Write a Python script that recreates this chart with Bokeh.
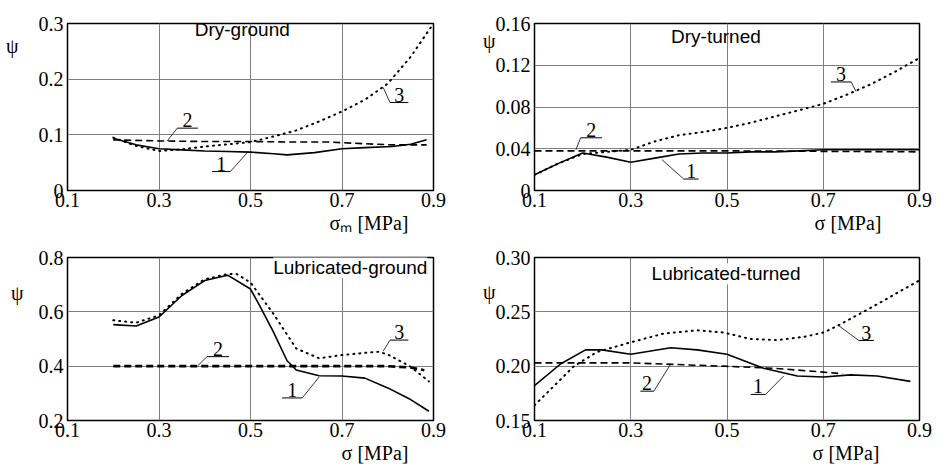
from bokeh.plotting import figure
from bokeh.layouts import column, row
from bokeh.models import FixedTicker, Label, Title, CustomJSTickFormatter, PrintfTickFormatter
from bokeh.core.properties import value
from bokeh.embed import file_html
from bokeh.resources import INLINE

# ---------------- data ----------------
x_tick_vals = [0.1, 0.3, 0.5, 0.7, 0.9]

# Dry-ground
dg1_x = [0.2, 0.25, 0.3, 0.35, 0.4, 0.45, 0.5, 0.55, 0.58, 0.64, 0.7, 0.75, 0.81, 0.85, 0.885]
dg1_y = [0.094, 0.082, 0.075, 0.073, 0.071, 0.070, 0.069, 0.066, 0.064, 0.068, 0.075, 0.077, 0.079, 0.083, 0.091]
dg2_x = [0.2, 0.3, 0.4, 0.5, 0.6, 0.67, 0.75, 0.81, 0.885]
dg2_y = [0.091, 0.089, 0.088, 0.088, 0.087, 0.087, 0.084, 0.082, 0.082]
dg3_x = [0.2, 0.25, 0.3, 0.35, 0.4, 0.45, 0.5, 0.55, 0.6, 0.65, 0.7, 0.75, 0.8, 0.85, 0.9]
dg3_y = [0.095, 0.080, 0.071, 0.074, 0.079, 0.083, 0.087, 0.097, 0.108, 0.124, 0.142, 0.163, 0.192, 0.240, 0.300]

# Dry-turned
dt_x = [0.1, 0.15, 0.2, 0.25, 0.3, 0.35, 0.4, 0.45, 0.5, 0.55, 0.6, 0.65, 0.7, 0.75, 0.8, 0.85, 0.9]
dt1_y = [0.015, 0.026, 0.036, 0.032, 0.027, 0.031, 0.035, 0.036, 0.036, 0.037, 0.037, 0.038, 0.039, 0.039, 0.039, 0.039, 0.039]
dt2_x = [0.1, 0.5, 0.9]
dt2_y = [0.038, 0.038, 0.037]
dt3_y = [0.015, 0.026, 0.035, 0.037, 0.039, 0.047, 0.053, 0.056, 0.060, 0.065, 0.071, 0.077, 0.083, 0.092, 0.102, 0.114, 0.127]

# Lubricated-ground
lg1_x = [0.2, 0.25, 0.3, 0.35, 0.4, 0.45, 0.5, 0.52, 0.55, 0.58, 0.6, 0.65, 0.7, 0.75, 0.8, 0.85, 0.89]
lg1_y = [0.553, 0.548, 0.581, 0.660, 0.715, 0.735, 0.684, 0.623, 0.526, 0.420, 0.386, 0.365, 0.364, 0.356, 0.320, 0.277, 0.234]
lg2_x = [0.2, 0.5, 0.8, 0.85, 0.88]
lg2_y = [0.400, 0.400, 0.400, 0.395, 0.385]
lg3_x = [0.2, 0.25, 0.3, 0.35, 0.4, 0.45, 0.47, 0.5, 0.55, 0.6, 0.65, 0.7, 0.75, 0.78, 0.8, 0.85, 0.89]
lg3_y = [0.569, 0.560, 0.587, 0.666, 0.720, 0.739, 0.739, 0.708, 0.593, 0.465, 0.429, 0.441, 0.449, 0.453, 0.443, 0.398, 0.344]

# Lubricated-turned
lt1_x = [0.1, 0.154, 0.206, 0.24, 0.3, 0.383, 0.438, 0.5, 0.576, 0.646, 0.701, 0.757, 0.812, 0.881]
lt1_y = [0.182, 0.202, 0.215, 0.215, 0.211, 0.217, 0.215, 0.211, 0.198, 0.191, 0.190, 0.192, 0.191, 0.186]
lt2_x = [0.1, 0.3, 0.493, 0.6, 0.715, 0.74]
lt2_y = [0.203, 0.203, 0.200, 0.198, 0.194, 0.193]
lt3_x = [0.1, 0.182, 0.23, 0.3, 0.369, 0.438, 0.493, 0.549, 0.604, 0.66, 0.701, 0.729, 0.8, 0.9]
lt3_y = [0.164, 0.200, 0.213, 0.222, 0.230, 0.233, 0.231, 0.225, 0.224, 0.227, 0.231, 0.237, 0.254, 0.279]

# ---------------- styling ----------------
SERIF = "Times New Roman"
SANS = "Liberation Sans"
NB = "\u00a0"

Y_FMT_CODE = """
if (Math.abs(tick - psi) < 1e-9) { return "\u03c8" + pad; }
if (Math.abs(tick) < 1e-12) { return "0"; }
return tick.toFixed(digits);
"""


def make_panel(width, height, bl, br, bt, bb, y_range, y_ticks, y_digits,
               psi_y, psi_pad, title, title_pos, xlabel, xoff, title_bg=False):
    p = figure(width=width, height=height, x_range=(0.1, 0.9), y_range=y_range,
               output_backend="svg", toolbar_location=None,
               min_border_left=bl, min_border_right=br,
               min_border_top=bt, min_border_bottom=bb)
    try:
        p.title = None
    except Exception:
        p.title.visible = False
    p.background_fill_color = "white"
    p.outline_line_color = "black"
    p.outline_line_width = 1.5
    xa = p.xaxis[0]
    ya = p.yaxis[0]
    xa.ticker = FixedTicker(ticks=x_tick_vals)
    # psi symbol is carried as an extra (gridless) tick label at the top-left
    ya.ticker = FixedTicker(ticks=y_ticks + [psi_y])
    p.ygrid.ticker = FixedTicker(ticks=y_ticks)
    p.xgrid.ticker = FixedTicker(ticks=x_tick_vals)
    xa.formatter = PrintfTickFormatter(format="%.1f")
    ya.formatter = CustomJSTickFormatter(args=dict(psi=psi_y, pad=NB * psi_pad, digits=y_digits),
                                         code=Y_FMT_CODE)
    for ax in (xa, ya):
        ax.axis_line_color = None
        ax.major_tick_line_color = None
        ax.minor_tick_line_color = None
        ax.major_tick_in = 0
        ax.major_tick_out = 0
        ax.minor_tick_in = 0
        ax.minor_tick_out = 0
        ax.major_label_text_font = SERIF
        ax.major_label_text_font_size = "20px"
        ax.major_label_text_font_style = "normal"
        ax.major_label_text_color = "black"
    xa.major_label_standoff = 2
    ya.major_label_standoff = 4

    # x label: right aligned under the tick labels
    p.add_layout(Title(text=xlabel, align="right", offset=xoff, standoff=0,
                       text_font=SERIF, text_font_size="20px", text_font_style="normal",
                       text_color="black"), "below")

    p.grid.grid_line_color = "#808080"
    p.grid.grid_line_width = 1
    p.grid.grid_line_alpha = 1.0

    # panel title
    p.add_layout(Label(x=title_pos[0], y=title_pos[1], text=title,
                       text_font=SANS, text_font_size="19px", text_color="black",
                       text_align="center", text_baseline="middle",
                       background_fill_color="white" if title_bg else None,
                       background_fill_alpha=1.0))
    return p


def draw_series(p, s1, s2, s3, dash_w=1.6):
    p.line(s1[0], s1[1], line_color="black", line_width=1.6)
    p.line(s2[0], s2[1], line_color="black", line_width=dash_w, line_dash="7 4")
    p.line(s3[0], s3[1], line_color="black", line_width=2.0, line_dash="1 5", line_cap="round")


def callout(p, num, ux0, ux1, uy, lx0, ly0, lx1, ly1, lift):
    p.segment(x0=[ux0], y0=[uy], x1=[ux1], y1=[uy], line_color="black", line_width=1)
    p.segment(x0=[lx0], y0=[ly0], x1=[lx1], y1=[ly1], line_color="black", line_width=0.8)
    p.text(x=[(ux0 + ux1) / 2], y=[uy + lift], text=[num], text_font=value(SERIF),
           text_font_size=value("20px"), text_align="center", text_baseline="bottom",
           text_color="black")


# ---------------- panels ----------------
p1 = make_panel(467, 235, 67, 34, 13, 45, (0, 0.3), [0, 0.1, 0.2, 0.3], 1, 0.26, 9,
                "Dry-ground", (0.482, 0.289), "σₘ [MPa]", 25)
draw_series(p1, (dg1_x, dg1_y), (dg2_x, dg2_y), (dg3_x, dg3_y))
lift1 = 0.3 / 167
callout(p1, "2", 0.34, 0.385, 0.112, 0.34, 0.112, 0.318, 0.089, lift1)
callout(p1, "1", 0.416, 0.456, 0.034, 0.456, 0.034, 0.495, 0.070, lift1)
callout(p1, "3", 0.805, 0.845, 0.158, 0.805, 0.158, 0.79, 0.185, lift1)

p2 = make_panel(469, 235, 67, 17, 23, 44, (0, 0.16), [0, 0.04, 0.08, 0.12, 0.16], 2, 0.143, 7,
                "Dry-turned", (0.477, 0.148), "σ [MPa]", 38)
draw_series(p2, (dt_x, dt1_y), (dt2_x, dt2_y), (dt_x, dt3_y))
lift2 = 0.16 / 168
callout(p2, "2", 0.196, 0.24, 0.0505, 0.196, 0.0505, 0.186, 0.039, lift2)
callout(p2, "1", 0.41, 0.441, 0.011, 0.41, 0.011, 0.365, 0.0295, lift2)
callout(p2, "3", 0.716, 0.758, 0.104, 0.758, 0.104, 0.768, 0.095, lift2)

p3 = make_panel(467, 231, 67, 34, 22, 45, (0.2, 0.8), [0.2, 0.4, 0.6, 0.8], 1, 0.668, 8,
                "Lubricated-ground", (0.718, 0.763), "σ [MPa]", 25, title_bg=True)
draw_series(p3, (lg1_x, lg1_y), (lg2_x, lg2_y), (lg3_x, lg3_y), dash_w=2.6)
lift3 = 0.6 / 164
callout(p3, "2", 0.405, 0.453, 0.435, 0.405, 0.435, 0.385, 0.402, lift3)
callout(p3, "1", 0.569, 0.613, 0.283, 0.613, 0.283, 0.65, 0.36, lift3)
callout(p3, "3", 0.805, 0.845, 0.496, 0.805, 0.496, 0.79, 0.455, lift3)

p4 = make_panel(469, 231, 67, 17, 22, 46, (0.15, 0.30), [0.15, 0.20, 0.25, 0.30], 2, 0.268, 7,
                "Lubricated-turned", (0.498, 0.285), "σ [MPa]", 40, title_bg=True)
draw_series(p4, (lt1_x, lt1_y), (lt2_x, lt2_y), (lt3_x, lt3_y))
lift4 = 0.15 / 163
callout(p4, "2", 0.32, 0.348, 0.177, 0.348, 0.177, 0.383, 0.202, lift4)
callout(p4, "1", 0.549, 0.58, 0.174, 0.58, 0.174, 0.618, 0.191, lift4)
callout(p4, "3", 0.774, 0.805, 0.2236, 0.774, 0.2236, 0.733, 0.237, lift4)

layout = column(row(p1, p2), row(p3, p4))

open("out.html", "w").write(file_html(layout, INLINE))
